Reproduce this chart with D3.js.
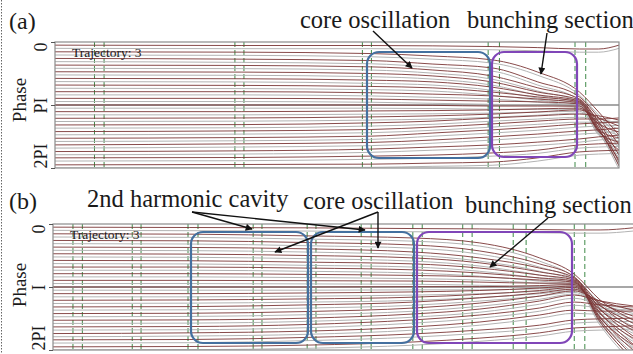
<!DOCTYPE html>
<html><head><meta charset="utf-8">
<script src="https://cdn.jsdelivr.net/npm/d3@7"></script>
<style>body{margin:0;background:#fff}svg{display:block}text{font-family:"Liberation Serif","Times New Roman",serif;fill:#1a1a1a}</style>
</head><body><svg id="c" width="633" height="354"></svg>
<script>
// ---- data ----
const phaseTicks = [0, 180, 360];          // degrees
const phaseLabelsA = ["0", "PI", "2PI"];
const phaseLabelsB = ["0", "I", "2PI"];

// panel (a): longitudinal stations (0-100 % of section length) and phase (deg) of each trajectory
const stationsA = [0, 33, 56, 67, 77.5, 85.6, 93, 96.4, 100];
const trajA = [
  [9,10,10,11,13,16,20,20,9],
  [28,29,33,40,51,86,143,200,266],
  [47,49,53,63,74,114,157,217,294],
  [66,67,71,80,97,131,163,229,323],
  [85,86,90,97,114,143,166,237,343],
  [104,105,109,114,129,151,169,246,354],
  [123,124,127,131,143,157,171,251,337],
  [142,142,145,149,154,163,174,254,309],
  [161,161,163,166,169,171,177,257,286],
  [180,180,180,181,183,183,183,251,274],
  [199,199,197,196,194,191,189,234,257],
  [218,217,214,211,206,200,194,217,240],
  [237,236,231,226,217,211,206,211,223],
  [256,254,250,243,234,226,220,220,217],
  [275,273,269,260,251,243,234,231,229],
  [294,291,287,280,271,263,254,251,246],
  [313,311,306,300,294,286,277,271,266],
  [331,330,326,323,317,309,294,291,289],
  [351,350,349,346,343,331,314,311,309]
];
const cavitiesA = [7, 8.7, 31.9, 33.5, 54.5, 56.1, 76.8, 78.8, 92.2, 94.1];

// panel (b)
const stationsB = [0, 23.3, 43.4, 61.5, 72.7, 82.9, 88.8, 93.2, 98.8];
const trajB = [
  [9,10,11,13,14,16,17,17,11],
  [28,29,34,40,54,97,143,217,274],
  [47,48,53,60,77,114,151,231,297],
  [66,67,71,80,97,126,154,243,320],
  [85,86,90,97,111,137,157,254,343],
  [104,105,109,114,126,146,160,266,360],
  [123,123,126,131,140,154,163,274,377],
  [142,142,144,147,151,160,166,280,389],
  [161,161,162,163,166,169,169,269,346],
  [180,180,180,179,179,176,173,257,326],
  [199,199,197,194,190,183,177,246,303],
  [218,217,214,209,201,190,181,234,283],
  [237,236,231,223,211,197,186,226,263],
  [256,255,250,240,226,206,191,220,246],
  [275,274,269,257,243,220,203,220,234],
  [294,293,287,274,260,240,223,231,237],
  [313,311,306,294,280,260,246,249,249],
  [331,330,324,314,303,289,274,271,269],
  [351,350,346,337,326,311,297,294,291]
];
const cavitiesB = [3.4,5.0,13.5,15.0,23.0,24.7,34.1,35.6,43.3,44.8,52.5,54.2,61.3,62.9,69.8,71.4,78.4,80.6,88.8,90.6];

// ---- drawing ----
const svg = d3.select('#c');
const defs = svg.append('defs');
defs.append('marker').attr('id','ah').attr('viewBox','0 0 10 10').attr('refX',9).attr('refY',5)
  .attr('markerWidth',9).attr('markerHeight',7).attr('markerUnits','userSpaceOnUse').attr('orient','auto')
  .append('path').attr('d','M0,0L10,5L0,10z').attr('fill','#111');

// dotted edge at far left
svg.append('line').attr('x1',1.5).attr('x2',1.5).attr('y1',0).attr('y2',354)
  .attr('stroke','#666').attr('stroke-dasharray','1.5,1.5').attr('stroke-width',1);

function panel(cfg){
  const {x0,x1,y0,y1,stations,traj,cav,labels,id,phaseY} = cfg;
  const x = d3.scaleLinear().domain([0,100]).range([x0,x1]);
  const y = d3.scaleLinear().domain([0,360]).range([y0,y1]);
  const g = svg.append('g');
  defs.append('clipPath').attr('id',id).append('rect')
    .attr('x',x0).attr('y',y0).attr('width',x1-x0).attr('height',y1-y0);
  const pg = g.append('g').attr('clip-path',`url(#${id})`);
  pg.selectAll('line.cav').data(cav).join('line').attr('class','cav')
    .attr('x1',d=>x(d)).attr('x2',d=>x(d)).attr('y1',y0).attr('y2',y1)
    .attr('stroke','#3f8a48').attr('stroke-width',1).attr('stroke-dasharray','5,3');
  pg.append('line').attr('x1',x0).attr('x2',x1).attr('y1',y(180)).attr('y2',y(180))
    .attr('stroke','#8a8a8a').attr('stroke-width',1.3);
  const line = d3.line().x((d,i)=>x(stations[i])).y(d=>y(d)).curve(d3.curveMonotoneX);
  pg.selectAll('path.sh').data(traj).join('path').attr('class','sh')
    .attr('d',line).attr('fill','none').attr('stroke','#b3b3b3').attr('stroke-width',1)
    .attr('transform','translate(0,3.2)');
  pg.selectAll('path.tr').data(traj).join('path').attr('class','tr')
    .attr('d',line).attr('fill','none').attr('stroke','#7a3636').attr('stroke-width',0.9);
  g.append('rect').attr('x',x0).attr('y',y0).attr('width',x1-x0).attr('height',y1-y0)
    .attr('fill','none').attr('stroke','#8c8c8c').attr('stroke-width',1.2);
  const ax = d3.axisLeft(y).tickValues(phaseTicks).tickSize(4).tickFormat((d,i)=>labels[i]);
  const axg = g.append('g').attr('transform',`translate(${x0},0)`).call(ax);
  axg.select('.domain').remove();
  axg.selectAll('.tick line').attr('stroke','#555');
  axg.selectAll('text').attr('transform','rotate(-90)').attr('x',0).attr('y',-8).attr('dy',0)
    .attr('text-anchor',(d,i)=>['end','middle','start'][i])
    .style('font-family','"Liberation Serif",serif').style('font-size','18px').attr('fill','#1a1a1a');
  svg.append('text').attr('transform',`translate(26,${phaseY}) rotate(-90)`).attr('text-anchor','middle')
    .style('font-size','19px').text('Phase');
  svg.append('text').attr('x',x0+17).attr('y',y0+15).style('font-size','13.5px').text('Trajectory: 3');
}

panel({x0:55,x1:619,y0:42,y1:168,stations:stationsA,traj:trajA,cav:cavitiesA,labels:phaseLabelsA,id:'clipA',phaseY:100});
panel({x0:53,x1:640,y0:224,y1:350,stations:stationsB,traj:trajB,cav:cavitiesB,labels:phaseLabelsB,id:'clipB',phaseY:285});

// region boxes
const boxes = [
  [367,52,490,158,'#44709f'],[492,52,577,157,'#8046b8'],
  [191,232,308,343,'#44709f'],[311,232,414,343,'#44709f'],[417,232,572,343,'#8046b8']
];
svg.selectAll('rect.box').data(boxes).join('rect').attr('class','box')
  .attr('x',d=>d[0]).attr('y',d=>d[1]).attr('width',d=>d[2]-d[0]).attr('height',d=>d[3]-d[1])
  .attr('rx',12).attr('fill','none').attr('stroke',d=>d[4]).attr('stroke-width',2.2);

// labels
const texts = [
  ['(a)',9,29,24],['(b)',9,209,24],
  ['core oscillation',300,28,24.5],['bunching section',467,28,24.5],
  ['2nd harmonic cavity',87,207,24.5],['core oscillation',303,209,24.5],['bunching section',465,213,24.5]
];
svg.selectAll('text.lab').data(texts).join('text').attr('class','lab')
  .attr('x',d=>d[1]).attr('y',d=>d[2]).style('font-size',d=>d[3]+'px').text(d=>d[0]);

// arrows
const arrows = [
  [373,31,412,68],[547,33,541,74],
  [192,212,252,229],[192,212,365,230],
  [378,212,275,252],[378,212,378,248],
  [548,218,490,267]
];
svg.selectAll('line.arr').data(arrows).join('line').attr('class','arr')
  .attr('x1',d=>d[0]).attr('y1',d=>d[1]).attr('x2',d=>d[2]).attr('y2',d=>d[3])
  .attr('stroke','#111').attr('stroke-width',1.4).attr('marker-end','url(#ah)');
</script></body></html>
